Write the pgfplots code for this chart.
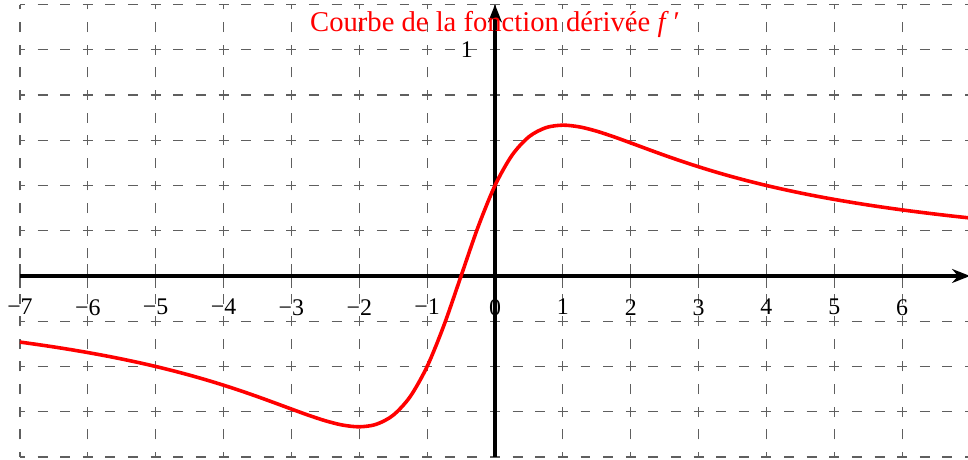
\documentclass[border=0pt]{standalone}
\usepackage{fontspec}
\setmainfont{Liberation Serif}
\usepackage{pgfplots}
\pgfplotsset{compat=1.18}
\usetikzlibrary{arrows.meta}
\definecolor{gridgray}{RGB}{95,95,95}
\begin{document}
\begin{tikzpicture}
\begin{axis}[
  x=1.2cm, y=4cm,
  xmin=-7, xmax=7, ymin=-0.8, ymax=1.2,
  axis lines=middle,
  axis line style={line width=2.1pt, black, -{Stealth[length=9pt,width=7pt]}},
  xtick={-7,-6,...,6},
  xticklabels={−7,−6,−5,−4,−3,−2,−1,0,1,2,3,4,5,6},
  ytick={-0.8,-0.6,-0.4,-0.2,0,0.2,0.4,0.6,0.8,1,1.2},
  yticklabels={,,,,,,,,,1,},
  ytick style={draw=none},
  extra y ticks={1}, extra y tick labels={},
  extra y tick style={grid=none, tick style={gridgray, line width=0.6pt}},
  hide obscured x ticks=false,
  hide obscured y ticks=false,
  grid=major,
  major grid style={gridgray, line width=0.6pt, dash pattern=on 5pt off 6.381pt, dash phase=2.5pt},
  major tick length=12pt,
  xtick style={gridgray, line width=0.6pt},
  ticklabel style={font=\large},
  xticklabel style={anchor=north, yshift=-4.5pt, inner sep=1pt},
  yticklabel style={anchor=east, xshift=-4pt, inner sep=1pt},
  clip=false,
]
\addplot[red, line width=1.8pt, smooth] coordinates {
(-7,-0.2921) (-6.75,-0.3026) (-6.5,-0.3137) (-6.25,-0.3257) (-6,-0.3385)
(-5.75,-0.3522) (-5.5,-0.3670) (-5.25,-0.3829) (-5,-0.4) (-4.75,-0.4185)
(-4.5,-0.4384) (-4.25,-0.4598) (-4,-0.4828) (-3.75,-0.5073) (-3.5,-0.5333)
(-3.25,-0.5605) (-3,-0.5882) (-2.75,-0.6154) (-2.5,-0.64) (-2.25,-0.6588)
(-2,-0.6667) (-1.75,-0.6557) (-1.5,-0.6154) (-1.25,-0.5333) (-1,-0.4)
(-0.75,-0.2162) (-0.5,0) (-0.25,0.2162) (0,0.4) (0.25,0.5333)
(0.5,0.6154) (0.75,0.6557) (1,0.6667) (1.25,0.6588) (1.5,0.64)
(1.75,0.6154) (2,0.5882) (2.25,0.5605) (2.5,0.5333) (2.75,0.5073)
(3,0.4828) (3.25,0.4598) (3.5,0.4384) (3.75,0.4185) (4,0.4)
(4.25,0.3829) (4.5,0.3670) (4.75,0.3522) (5,0.3385) (5.25,0.3257)
(5.5,0.3137) (5.75,0.3026) (6,0.2921) (6.25,0.2824) (6.5,0.2732)
(6.75,0.2645) (7,0.2564)
};
\node[red, font=\Large] at (axis cs:0,1.112) {Courbe de la fonction dérivée \textit{f}\,′};
\coordinate (bbl) at (axis cs:-7.294,-0.811);
\coordinate (btr) at (axis cs:6.97,1.22);
\end{axis}
\pgfresetboundingbox
\useasboundingbox (bbl) rectangle (btr);
\end{tikzpicture}
\end{document}
